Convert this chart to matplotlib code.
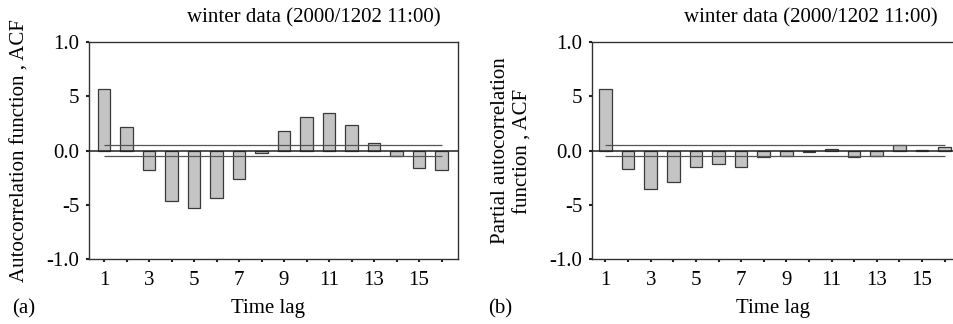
import matplotlib
matplotlib.use('Agg')
import matplotlib.pyplot as plt

plt.rcParams['font.family'] = ['Liberation Serif', 'DejaVu Serif']

lags = list(range(1, 17))
acf = [0.565, 0.219, -0.182, -0.466, -0.531, -0.438, -0.262, -0.022,
       0.176, 0.312, 0.343, 0.238, 0.071, -0.052, -0.157, -0.182]
pacf = [0.565, -0.167, -0.352, -0.290, -0.148, -0.120, -0.154, -0.059,
        -0.049, -0.015, 0.015, -0.056, -0.052, 0.049, 0.009, 0.028]
conf = 0.05

xtick_labels = ['1', '', '3', '', '5', '', '7', '', '9', '', '11', '', '13', '', '15', '']
ytick_vals = [1.0, 0.5, 0.0, -0.5, -1.0]
ytick_labels = ['1.0', '5', '0.0', '-5', '-1.0']
title = 'winter data (2000/1202 11:00)'

W, H = 954, 324
fig = plt.figure(figsize=(W / 100, H / 100), dpi=100)

edge = '#3a3a3a'
face = '#c4c4c4'


def px_axes(l, t, r, b):
    return fig.add_axes([l / W, 1 - b / H, (r - l) / W, (b - t) / H])


def draw_panel(ax, vals, xlim, right_spine=True):
    ax.bar(lags, vals, width=0.56, color=face, edgecolor=edge, linewidth=0.9, zorder=2)
    ax.axhline(0, color='#222222', lw=1.1, zorder=3)
    ax.hlines([conf, -conf], 1, 16, color='#555555', lw=0.9, zorder=3)
    ax.set_xlim(xlim)
    ax.set_ylim(-1, 1)
    ax.set_xticks(lags)
    ax.set_xticklabels(xtick_labels)
    ax.set_yticks(ytick_vals)
    ax.set_yticklabels(ytick_labels)
    ax.tick_params(axis='both', direction='out', length=2.2, width=1.5,
                   color='#222222', labelsize=15, pad=5)
    ax.tick_params(axis='x', pad=6)
    for s in ax.spines.values():
        s.set_color('#333333')
        s.set_linewidth(1.0)
    if not right_spine:
        ax.spines['right'].set_visible(False)


ax1 = px_axes(89.3, 41.7, 458, 259.3)
draw_panel(ax1, acf, (0.347, 16.73))

ax2 = px_axes(592.3, 41.7, 954, 259.3)
draw_panel(ax2, pacf, (0.416, 16.42), right_spine=False)

fig.text(314 / W, 1 - 22 / H, title, ha='center', va='baseline', fontsize=15)
fig.text(811 / W, 1 - 22 / H, title, ha='center', va='baseline', fontsize=15)

fig.text(20 / W, 1 - 151 / H, 'Autocorrelation function , ACF', rotation=90,
         ha='center', va='center', fontsize=15)
fig.text(512 / W, 1 - 151 / H, 'Partial autocorrelation\nfunction , ACF', rotation=90,
         ha='center', va='center', fontsize=15, multialignment='center', linespacing=1.25)

fig.text(268 / W, 1 - 313 / H, 'Time lag', ha='center', va='baseline', fontsize=15)
fig.text(773 / W, 1 - 313 / H, 'Time lag', ha='center', va='baseline', fontsize=15)
fig.text(12 / W, 1 - 313 / H, '(a)', ha='left', va='baseline', fontsize=15)
fig.text(488 / W, 1 - 313 / H, '(b)', ha='left', va='baseline', fontsize=15)

fig.savefig('out.png', dpi=100, facecolor='white')
